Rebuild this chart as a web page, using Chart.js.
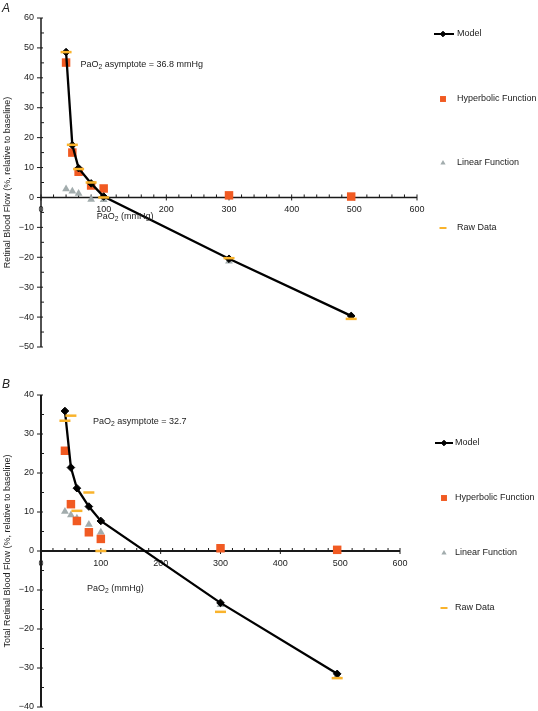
<!DOCTYPE html>
<html>
<head>
<meta charset="utf-8">
<script src="https://cdn.jsdelivr.net/npm/chart.js@4.4.1/dist/chart.umd.min.js"></script>
<style>
    html, body { margin: 0; padding: 0; background: #fff; overflow: hidden; }
    body { width: 538px; height: 711px; position: relative; font-family: "Liberation Sans", Arial, sans-serif; }
    .panel { position: absolute; left: 0; width: 538px; height: 360px; }
    #panelA { top: 0; }
    #panelB { top: 360px; }
    .tag { position: absolute; left: 2px; font-style: italic; font-size: 12px; color: #222; }
</style>
</head>
<body>
<div class="panel" id="panelA">
    <canvas id="chartA" width="538" height="360"></canvas>
    <div class="tag" style="top:1px;">A</div>
</div>
<div class="panel" id="panelB">
    <canvas id="chartB" width="538" height="360"></canvas>
    <div class="tag" style="top:17px;">B</div>
</div>
<script>
// PaO2 levels (mmHg)
const PAO2 = [40, 50, 60, 80, 100, 300, 495];

// Panel A: retinal blood flow (% change from baseline)
const MODEL_A = [48.6, 17.5, 9.8, 4.7, 0.3, -20.5, -39.6];
const HYPER_A = [45.1, 15.0, 8.6, 4.0, 3.0, 0.7, 0.3];
const LINEAR_A = [2.8, 2.1, 1.3, -0.7, -0.8, -21.3, -40.0];
const RAW_A = [48.6, 17.6, 9.5, 5.0, 0.0, -20.3, -40.6];

// Panel B: total retinal blood flow (% change from baseline)
const MODEL_B = [35.9, 21.4, 16.1, 11.4, 7.7, -13.3, -31.5];
const HYPER_B = [25.7, 12.0, 7.7, 4.8, 3.1, 0.7, 0.3];
const LINEAR_B = [10.1, 9.2, 8.4, 6.8, 4.8, -13.8, -32.0];
const RAW_B = [33.4, 34.7, 10.3, 15.0, 0.0, -15.6, -32.6];

const SERIES_LABELS = ["Model", "Hyperbolic Function", "Linear Function", "Raw Data"];
const X_RANGE = [0, 600];
const Y_RANGE_A = [-50, 60];
const Y_RANGE_B = [-40, 40];

const FONT = { family: "'Liberation Sans', Arial, sans-serif", size: 9 };
const TEXT_COLOR = "#222";

function points(ys) {
    return PAO2.map((x, i) => ({ x, y: ys[i] }));
}

function makeDatasets(model, hyper, linear, raw) {
    return [
        {
            label: SERIES_LABELS[0], data: points(model), showLine: true,
            borderColor: "#000", backgroundColor: "#000", borderWidth: 2.3,
            pointStyle: "rectRot", pointRadius: 3.8, pointBorderWidth: 1, order: 1,
        },
        {
            label: SERIES_LABELS[1], data: points(hyper),
            backgroundColor: "#F15A22", borderColor: "#F15A22", borderWidth: 0,
            pointStyle: "rect", pointRadius: 6, order: 2,
        },
        {
            label: SERIES_LABELS[2], data: points(linear),
            backgroundColor: "#A2ACAD", borderColor: "#A2ACAD", borderWidth: 0,
            pointStyle: "triangle", pointRadius: 4.5, order: 3,
        },
        {
            label: SERIES_LABELS[3], data: points(raw),
            backgroundColor: "#F9B32C", borderColor: "#F9B32C", borderWidth: 2.5,
            pointStyle: "line", pointRadius: 5.5, order: 0,
        },
    ];
}

// axis lines crossing at the origin, with major and minor ticks
const crossAxes = {
    id: "crossAxes",
    beforeDatasetsDraw(chart, args, opts) {
        const { ctx, scales: { x, y } } = chart;
        const x0 = x.getPixelForValue(0);
        const y0 = y.getPixelForValue(0);
        ctx.save();
        ctx.strokeStyle = "#1a1a1a";
        ctx.lineWidth = opts.width || 1.5;
        ctx.beginPath();
        ctx.moveTo(x0, y.top);
        ctx.lineTo(x0, y.bottom);
        ctx.moveTo(x.left, y0);
        ctx.lineTo(x.right, y0);
        ctx.stroke();

        ctx.lineWidth = 1;
        ctx.beginPath();
        for (let v = y.min; v <= y.max; v += 5) {
            const p = y.getPixelForValue(v);
            if (v % 10 === 0) {
                ctx.moveTo(x0 - 4, p);
                ctx.lineTo(x0 + 2, p);
            } else {
                ctx.moveTo(x0, p);
                ctx.lineTo(x0 + 3, p);
            }
        }
        for (let v = x.min; v <= x.max; v += 20) {
            const p = x.getPixelForValue(v);
            if (v % 100 === 0) {
                ctx.moveTo(p, y0 - 3);
                ctx.lineTo(p, y0 + 3);
            } else {
                ctx.moveTo(p, y0 - 3);
                ctx.lineTo(p, y0);
            }
        }
        ctx.stroke();
        ctx.restore();
    },
};

// text with a subscript part, e.g. PaO + "2"
function drawRich(ctx, parts, x, y, size) {
    let cx = x;
    parts.forEach(([text, sub]) => {
        const s = sub ? size * 0.75 : size;
        ctx.font = `${s}px ${FONT.family}`;
        ctx.fillText(text, cx, sub ? y + size * 0.3 : y);
        cx += ctx.measureText(text).width;
    });
}

const notes = {
    id: "notes",
    afterDraw(chart, args, opts) {
        const { ctx, scales: { x, y } } = chart;
        ctx.save();
        ctx.fillStyle = TEXT_COLOR;
        ctx.textBaseline = "middle";
        ctx.textAlign = "left";
        (opts.items || []).forEach((item) => {
            drawRich(ctx, item.parts, x.getPixelForValue(item.x), y.getPixelForValue(item.y), FONT.size);
        });

        // vertical axis title, centred on the plot height
        ctx.translate(opts.titleX, (y.top + y.bottom) / 2);
        ctx.rotate(-Math.PI / 2);
        ctx.textAlign = "center";
        ctx.font = `${FONT.size}px ${FONT.family}`;
        ctx.fillText(opts.yTitle, 0, 0);
        ctx.restore();
    },
};

// legend spread down the right-hand side
const sideLegend = {
    id: "sideLegend",
    afterDraw(chart, args, opts) {
        const { ctx } = chart;
        const draw = Chart.helpers.drawPoint;
        ctx.save();
        chart.data.datasets.forEach((ds, i) => {
            const cy = opts.ys[i];
            ctx.fillStyle = ds.backgroundColor;
            ctx.strokeStyle = ds.borderColor;
            if (ds.showLine) {
                ctx.lineWidth = 2;
                ctx.beginPath();
                ctx.moveTo(opts.lineX0, cy);
                ctx.lineTo(opts.lineX1, cy);
                ctx.stroke();
                ctx.lineWidth = 1;
                draw(ctx, { pointStyle: ds.pointStyle, radius: 2.8, rotation: 0, borderWidth: 1 }, opts.symX, cy);
            } else if (ds.pointStyle === "line") {
                ctx.lineWidth = 2;
                draw(ctx, { pointStyle: "line", radius: 3.5, rotation: 0, borderWidth: 2 }, opts.symX, cy);
            } else {
                ctx.lineWidth = 0;
                const r = ds.pointStyle === "rect" ? 4.2 : 3;
                draw(ctx, { pointStyle: ds.pointStyle, radius: r, rotation: 0, borderWidth: 0 }, opts.symX, cy);
            }
            ctx.fillStyle = TEXT_COLOR;
            ctx.font = `${FONT.size}px ${FONT.family}`;
            ctx.textBaseline = "middle";
            ctx.textAlign = "left";
            ctx.fillText(ds.label, opts.textX, cy);
        });
        ctx.restore();
    },
};

function minus(v) {
    return String(v).replace("-", "\u2212");
}

function makeChart(canvasId, datasets, yRange, padding, notesOpts, legendOpts, axisWidth) {
    const ctx = document.getElementById(canvasId);
    return new Chart(ctx, {
        type: "scatter",
        data: { datasets },
        plugins: [crossAxes, notes, sideLegend],
        options: {
            responsive: false,
            animation: false,
            events: [],
            layout: { padding },
            scales: {
                x: {
                    type: "linear",
                    min: X_RANGE[0],
                    max: X_RANGE[1],
                    position: { y: 0 },
                    border: { display: false },
                    grid: { display: true, drawOnChartArea: false, color: "rgba(0,0,0,0)", tickLength: 4 },
                    ticks: { stepSize: 100, font: FONT, color: TEXT_COLOR, padding: 3, maxRotation: 0 },
                },
                y: {
                    type: "linear",
                    min: yRange[0],
                    max: yRange[1],
                    border: { display: false },
                    grid: { display: true, drawOnChartArea: false, color: "rgba(0,0,0,0)", tickLength: 4 },
                    ticks: { stepSize: 10, font: FONT, color: TEXT_COLOR, padding: 3, callback: (v) => minus(v) },
                    afterFit: (scale) => { scale.width = 41; },
                },
            },
            plugins: {
                legend: { display: false },
                tooltip: { enabled: false },
                crossAxes: { width: axisWidth },
                notes: notesOpts,
                sideLegend: legendOpts,
            },
        },
    });
}

document.addEventListener("DOMContentLoaded", () => {
    makeChart(
        "chartA",
        makeDatasets(MODEL_A, HYPER_A, LINEAR_A, RAW_A),
        Y_RANGE_A,
        { left: 0, right: 121, top: 18, bottom: 13 },
        {
            titleX: 8,
            yTitle: "Retinal Blood Flow (%, relative to baseline)",
            items: [
                { x: 63, y: 44.5, parts: [["PaO"], ["2", true], [" asymptote = 36.8 mmHg"]] },
                { x: 89, y: -6.4, parts: [["PaO"], ["2", true], [" (mmHg)"]] },
            ],
        },
        { symX: 443, lineX0: 434, lineX1: 454, textX: 457, ys: [34, 99, 163, 228] },
        1.5,
    );

    makeChart(
        "chartB",
        makeDatasets(MODEL_B, HYPER_B, LINEAR_B, RAW_B),
        Y_RANGE_B,
        { left: 0, right: 138, top: 35, bottom: 13 },
        {
            titleX: 8,
            yTitle: "Total Retinal Blood Flow (%, relative to baseline)",
            items: [
                { x: 87, y: 33.2, parts: [["PaO"], ["2", true], [" asymptote = 32.7"]] },
                { x: 77, y: -9.5, parts: [["PaO"], ["2", true], [" (mmHg)"]] },
            ],
        },
        { symX: 444, lineX0: 435, lineX1: 453, textX: 455, ys: [83, 138, 193, 248] },
        2,
    );
});
</script>
</body>
</html>
